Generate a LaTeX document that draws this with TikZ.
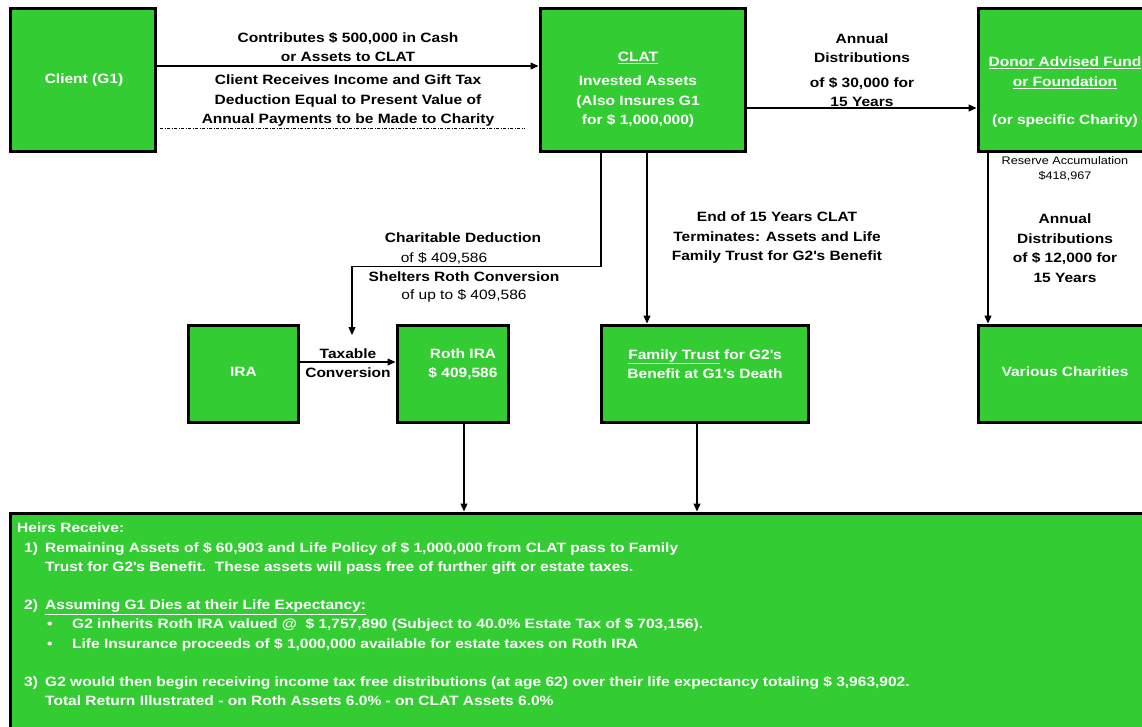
\documentclass[tikz,border=0pt]{standalone}
\usepackage{fontspec}
\setmainfont{Liberation Sans}[FakeStretch=1.15]
\usetikzlibrary{calc}
\usetikzlibrary{arrows.meta}
\definecolor{boxgreen}{RGB}{51,204,51}
\newcommand{\apos}{\textquotesingle}
\tikzstyle{box}=[rectangle,draw=black,line width=3pt,fill=boxgreen,inner sep=0pt]
\tikzstyle{boxtext}=[text=white,font=\bfseries\fontsize{13.5}{19.5}\selectfont,align=center,inner sep=0pt]
\tikzstyle{edgetext}=[text=black,font=\bfseries\fontsize{13.5}{19.5}\selectfont,align=center,inner sep=0pt]
\tikzstyle{edgeplain}=[text=black,font=\fontsize{13.5}{19.5}\selectfont,align=center,inner sep=0pt]
\tikzstyle{flow}=[line width=1.2pt,-{Triangle[length=8pt,width=7pt]}]

\begin{document}
\begin{tikzpicture}[x=1pt,y=-1pt]
\useasboundingbox (0,0) rectangle (1142,726);
\clip (0,0) rectangle (1142,726);
% boxes
\node[box,minimum width=145pt,minimum height=143pt] (client) at (82.5,79.5) {};
\node[box,minimum width=205pt,minimum height=143pt] (clat) at (642.5,79.5) {};
\node[box,minimum width=174pt,minimum height=143pt] (donor) at (1065,79.5) {};
\node[box,minimum width=110pt,minimum height=97pt] (ira) at (243,373.5) {};
\node[box,minimum width=111pt,minimum height=97pt] (roth) at (452.5,373.5) {};
\node[box,minimum width=207pt,minimum height=97pt] (family) at (704.5,373.5) {};
\node[box,minimum width=174pt,minimum height=97pt] (charities) at (1065,373.5) {};
\node[box,minimum width=1140pt,minimum height=222pt] (heirs) at (580,624) {};

% texts in the boxes
\node[boxtext] (clienttext) at (84,80) {Client (G1)};
\node[boxtext] (clattext) at (638,90) {\underline{CLAT}\\[4.5pt]Invested Assets\\(Also Insures G1\\for \$ 1,000,000)};
\node[boxtext] (donortext) at (1065,92.5) {\underline{Donor Advised Fund}\\\underline{or Foundation}\\[19pt](or specific Charity)};
\node[boxtext] (iratext) at (243.5,372) {IRA};
\node[boxtext] (rothtext) at (463,364) {Roth IRA\\\$ 409,586};
\node[boxtext] (familytext) at (705,364) {\underline{Family Trust} for G2\apos s\\Benefit at G1\apos s Death};
\node[boxtext] (charitiestext) at (1065,372) {Various Charities};
\node[boxtext,align=left,anchor=north west,font=\bfseries\fontsize{13.5}{19.2}\selectfont] (heirstext) at (17,523) {Heirs Receive:\\
\hspace*{7pt}\makebox[21pt][l]{1)}Remaining Assets of \$ 60,903 and Life Policy of \$ 1,000,000 from CLAT pass to Family\\
\hspace*{28pt}Trust for G2\apos s Benefit.\ \ These assets will pass free of further gift or estate taxes.\\[19.2pt]
\hspace*{7pt}\makebox[21pt][l]{2)}\underline{Assuming G1 Dies at their Life Expectancy:}\\
\hspace*{30pt}\makebox[25pt][l]{•}G2 inherits Roth IRA valued @\ \ \$ 1,757,890 (Subject to 40.0\% Estate Tax of \$ 703,156).\\
\hspace*{30pt}\makebox[25pt][l]{•}Life Insurance proceeds of \$ 1,000,000 available for estate taxes on Roth IRA\\[19.2pt]
\hspace*{7pt}\makebox[21pt][l]{3)}G2 would then begin receiving income tax free distributions (at age 62) over their life expectancy totaling \$ 3,963,902.\\
\hspace*{28pt}Total Return Illustrated - on Roth Assets 6.0\% - on CLAT Assets 6.0\%};

% labels
\node[edgetext] (contrib) at (348,47) {Contributes \$ 500,000 in Cash\\or Assets to CLAT};
\node[edgetext] (deduct) at (348,101) {Client Receives Income and Gift Tax\\Deduction Equal to Present Value of\\Annual Payments to be Made to Charity};
\node[edgetext] (annuala) at (862,70) {Annual\\Distributions\\[5pt]of \$ 30,000 for\\15 Years};
\node[edgeplain,font=\fontsize{11}{15}\selectfont] (reserve) at (1065,169) {Reserve Accumulation\\\$418,967};
\node[edgetext] (annualb) at (1065,248) {Annual\\Distributions\\of \$ 12,000 for\\15 Years};
\node[edgetext] (endclat) at (777,238) {End of 15 Years CLAT\\Terminates: Assets and Life\\Family Trust for G2\apos s Benefit};
\node[edgetext] (chardeduct) at (463,238) {Charitable Deduction};
\node[edgeplain] (chardeductval) at (444,258) {of \$ 409,586};
\node[edgetext] (shelters) at (464,277) {Shelters Roth Conversion};
\node[edgeplain] (sheltersval) at (464,296) {of up to \$ 409,586};
\node[edgetext] (taxable) at (348,363) {Taxable\\Conversion};

% edges and paths
\coordinate (dashstart) at (160,128);
\coordinate (dashend) at (525,128);
\coordinate (deductend) at (352,335);
\draw[line width=1pt,dash pattern=on 3pt off 1.5pt on 1pt off 1.5pt] (dashstart) -- (dashend);
\draw[flow] ([yshift=13.5pt]client.east) -- ([yshift=13.5pt]clat.west);
\draw[flow] ([yshift=-28.5pt]clat.east) -- ([yshift=-28.5pt]clat.east -| donor.west);
\draw[flow] ([xshift=-41.5pt]clat.south) -- ++(0,114) -| (deductend);
\draw[flow] ([xshift=4.5pt]clat.south) -- ([xshift=4.5pt]clat.south |- family.north);
\draw[flow] ([xshift=-77pt]donor.south) -- ([xshift=-77pt]donor.south |- charities.north);
\draw[flow] ([yshift=11.5pt]ira.east) -- ([yshift=11.5pt]roth.west);
\draw[flow] ([xshift=11.5pt]roth.south) -- ([xshift=11.5pt]roth.south |- heirs.north);
\draw[flow] ([xshift=-7.5pt]family.south) -- ([xshift=-7.5pt]family.south |- heirs.north);
\end{tikzpicture}
\end{document}
